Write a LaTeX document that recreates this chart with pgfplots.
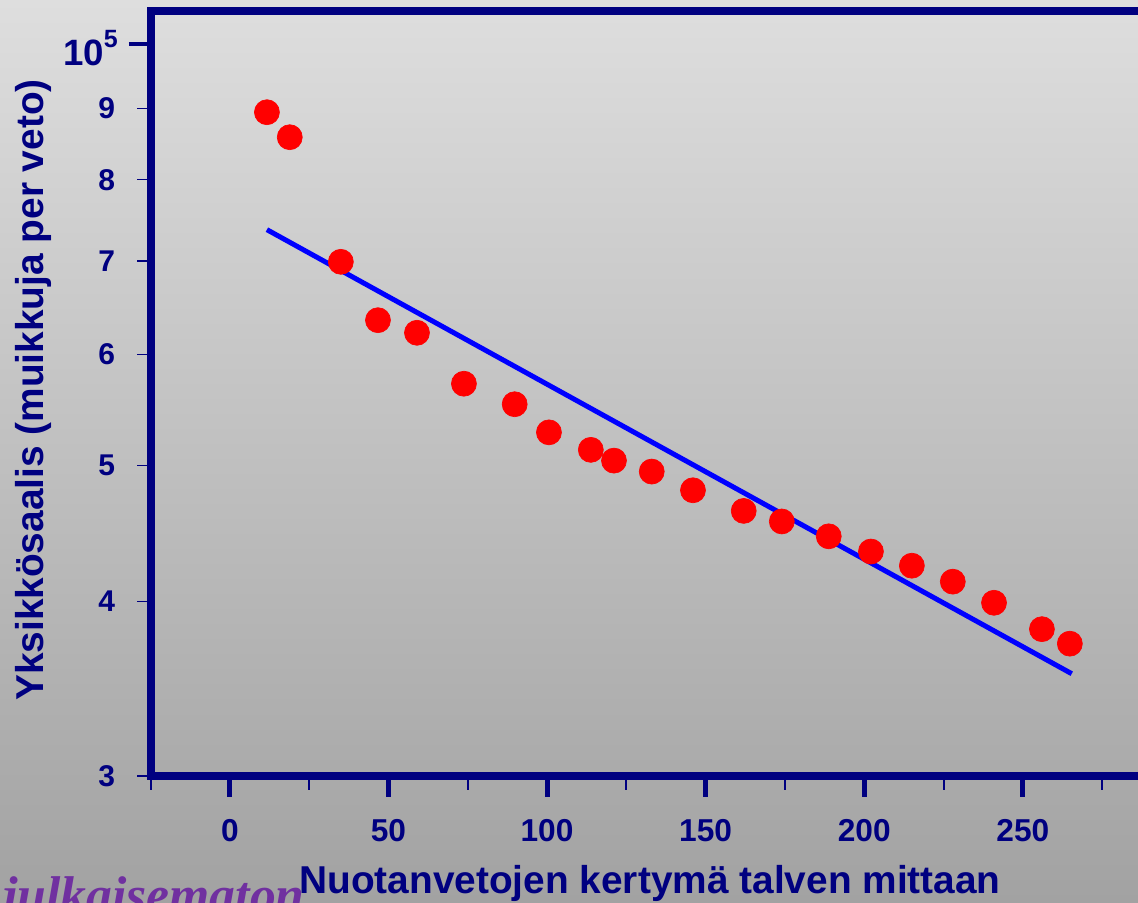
\documentclass[border=0pt]{standalone}
\usepackage{pgfplots}
\pgfplotsset{compat=1.18}
\usepackage{fontspec}
\setmainfont{Liberation Sans}
\newfontfamily\serifit{Liberation Serif}
\definecolor{navy}{RGB}{0,0,128}
\definecolor{lila}{RGB}{112,48,160}
\definecolor{bgtop}{RGB}{222,222,222}
\definecolor{bgbot}{RGB}{162,162,162}
\begin{document}
\begin{tikzpicture}
\useasboundingbox (0,0) rectangle (682.8pt,541.2pt);
\clip (0,0) rectangle (682.8pt,541.2pt);
\fill[top color=bgtop,bottom color=bgbot] (0,0) rectangle (682.8pt,541.2pt);
% y ticks axis
\begin{semilogyaxis}[
  at={(90.3pt,75.6pt)}, anchor=south west,
  scale only axis, width=618.6pt, height=459pt,
  xmin=-25, xmax=300, ymin=3, ymax=10.56,
  tick align=outside, tick pos=left,
  clip=false,
  axis line style={draw=none},
  xtick=\empty, minor xtick={},
  ytick={3,4,5,6,7,8,9},
  yticklabels={3,4,5,6,7,8,9},
  minor ytick={},
  ytick style={navy, line width=0.7pt},
  major tick length=8pt,
  yticklabel style={font=\fontsize{18}{18}\selectfont\bfseries, text=navy, inner sep=0pt, anchor=east, xshift=-13pt},
  extra y ticks={10},
  extra y tick labels={\fontsize{22}{22}\selectfont 10\raisebox{0.5em}{\fontsize{15}{15}\selectfont 5}},
  extra y tick style={major tick length=13pt, ytick style={navy, line width=2.6pt}, yticklabel style={xshift=6.6pt, yshift=-2.5pt}},
]
\end{semilogyaxis}
\begin{semilogyaxis}[
  at={(90.3pt,75.6pt)}, anchor=south west,
  scale only axis, width=618.6pt, height=459pt,
  xmin=-25, xmax=300, ymin=3, ymax=10.56,
  tick align=outside, tick pos=left,
  ticklabel style={font=\fontsize{19}{19}\selectfont\bfseries, text=navy},
  clip=false,
  axis line style={navy, line width=4.8pt},
  ytick=\empty, minor ytick={},
  xtick={0,50,100,150,200,250,300},
  xticklabels={0,50,100,150,200,250,},
  minor xtick={-25,25,75,125,175,225,275},
  xtick style={navy, line width=3pt},
  minor x tick style={line width=1.2pt},
  major tick length=12.6pt, minor tick length=8.4pt,
  xticklabel style={yshift=-10pt},
]
\addplot[blue, line width=3pt] coordinates {(11.7,7.37) (265.4,3.55)};
\addplot[only marks, mark=*, mark size=7.5pt, color=red, mark options={fill=red, draw=red}] coordinates {
(11.7,8.94) (18.9,8.58) (35.0,6.99) (46.7,6.35) (59.0,6.22) (73.8,5.72)
(89.8,5.53) (100.6,5.28) (113.8,5.13) (121.1,5.04) (133.0,4.95) (146.0,4.80)
(162.0,4.64) (174.0,4.56) (188.8,4.45) (202.1,4.34) (215.0,4.24) (227.9,4.13)
(240.9,3.99) (256.0,3.82) (264.8,3.73)};
\end{semilogyaxis}
\node[rotate=90, anchor=center, text=navy, font=\fontsize{23.3}{23.3}\selectfont\bfseries] at (19.8pt,307.2pt) {Yksikkösaalis (muikkuja per veto)};
\node[anchor=base, text=navy, font=\fontsize{23.3}{23.3}\selectfont\bfseries] at (390pt,5.4pt) {Nuotanvetojen kertymä talven mittaan};
\node[anchor=base east, text=lila, font=\serifit\fontsize{31}{31}\selectfont\bfseries\itshape, inner sep=0pt] at (183pt,-6pt) {Tieto julkaisematon};
\end{tikzpicture}
\end{document}
